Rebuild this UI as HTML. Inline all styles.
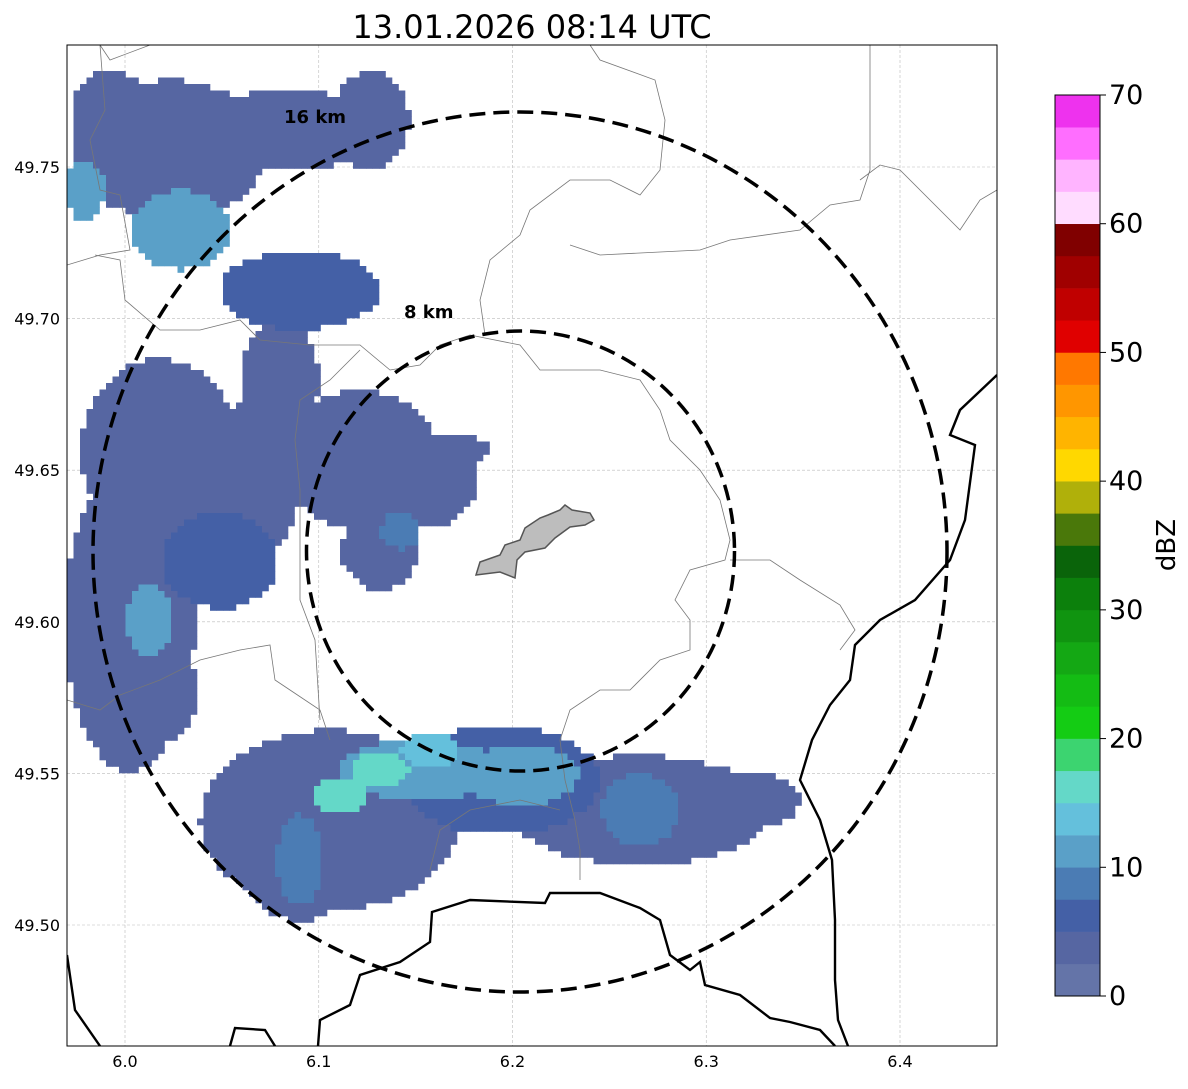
<!DOCTYPE html>
<html><head><meta charset="utf-8"><style>
body{margin:0;background:#fff;width:1188px;height:1084px;overflow:hidden;font-family:"Liberation Sans","DejaVu Sans",sans-serif}
</style></head><body>
<svg id="chart" width="1188" height="1084" xmlns="http://www.w3.org/2000/svg" font-family="DejaVu Sans, Liberation Sans, sans-serif">
<text x="532" y="38" font-size="32" text-anchor="middle">13.01.2026 08:14 UTC</text>
<defs><clipPath id="clip"><rect x="67" y="45" width="930" height="1001"/></clipPath></defs>
<g id="grid"></g>
<g id="cells" clip-path="url(#clip)"></g>
<g clip-path="url(#clip)" fill="none">
<path stroke="#777" stroke-width="0.8" d="M100,45 L105,110 L90,140 L100,190 L120,195 L130,250 L100,255 L67,265 M95,255 L120,260 L125,300 L160,330 L200,330 L240,320 L260,340 L310,345 L360,345 L390,370 L420,365 L440,345 L470,335 L520,345 L540,370 L600,370 L640,380 L660,410 L670,440 L700,470 L720,500 L730,540 L725,560 L690,570 L675,600 L690,620 L690,650 L660,660 L630,690 L600,690 L570,710 L560,740 L565,780 L575,820 L580,850 L580,880 M430,870 L440,830 L470,810 L520,800 L560,810 M67,700 L100,710 L120,695 L160,680 L200,660 L240,650 L270,645 L275,680 L290,690 L320,710 L330,740 M485,335 L480,300 L490,260 L520,235 L530,210 L570,180 L610,180 L640,195 L660,170 L665,120 L655,80 L600,60 L590,45 M870,45 L870,170 L860,200 L830,205 L800,230 L730,240 L700,250 L600,255 L570,245 M860,180 L880,165 L900,170 L960,230 L980,200 L997,190 M730,560 L770,560 L800,580 L840,605 L855,630 L840,650 M320,720 L315,640 L300,600 L300,550 L300,490 L295,440 L300,400 L330,380 L360,350 M150,45 L110,60 L100,45"/>
<path stroke="#000" stroke-width="2.4" d="M997,375 L960,410 L950,435 L975,445 L965,520 L950,560 L915,600 L880,620 L855,645 L850,680 L830,705 L812,740 L800,780 L820,820 L832,860 L835,920 L835,980 L838,1020 L848,1046 M67,955 L75,1010 L100,1046 M230,1046 L235,1028 L265,1030 L275,1046 M318,1046 L320,1020 L350,1005 L360,975 L400,962 L430,942 L432,912 L470,900 L545,903 L550,893 L600,893 L640,908 L660,920 L670,955 L690,970 L700,962 L705,985 L740,995 L770,1018 L790,1022 L820,1030 L835,1046"/>
<path fill="#bdbdbd" stroke="#555" stroke-width="1.5" d="M476,575 L480,562 L500,555 L505,545 L520,540 L525,528 L540,518 L548,515 L560,510 L565,505 L572,510 L590,513 L594,520 L585,525 L570,527 L555,538 L545,548 L525,552 L517,560 L515,578 L500,572 Z"/>
</g>
<g fill="none" stroke="#000" stroke-width="3.5" stroke-dasharray="16,8">
<ellipse cx="520" cy="552" rx="427" ry="440"/>
<ellipse cx="520.5" cy="551" rx="214" ry="220"/>
</g>
<text x="284" y="123" font-size="18" font-weight="bold">16 km</text>
<text x="404" y="318" font-size="18" font-weight="bold">8 km</text>
<rect x="67" y="45" width="930" height="1001" fill="none" stroke="#000" stroke-width="1"/>
<g id="ticks" font-size="16"></g>
<g id="cbar"></g>
<text transform="translate(1175,545) rotate(-90)" font-size="26" text-anchor="middle">dBZ</text>
</svg>
<script>
const lonTicks=[6.0,6.1,6.2,6.3,6.4];
const latTicks=[49.50,49.55,49.60,49.65,49.70,49.75];
const cbTicks=[0,10,20,30,40,50,60,70];
const cbColors=["#6474a8","#5666a2","#4460a6","#4b7cb4","#5aa0c8","#64c0dc","#64d8c8","#3cd470","#14cc14","#14bc14","#14a814","#109410","#0c800c","#0a640a","#4a780a","#b0b00a","#ffd800","#ffb400","#ff9600","#ff7800","#e00000","#c00000","#a00000","#800000","#ffdcff","#ffb4ff","#ff6eff","#ee32ee"];
// radar echoes: centre lon, centre lat, radius lon, radius lat, dBZ
const echoLon=[6.1058,6.1935,6.2658,6.3174,6.0903,6.0026,6.018,6.0077,6.0232,5.9923,6.0852,6.1265,6.0903,6.1213,6.1523,6.0645,6.08,6.049,6.1316,6.1729,6.1523,6.2039,6.2658,6.0903,6.0284,5.9794,6.0129,6.111,6.1316,6.157,6.1419];
const echoLat=[49.5346,49.5478,49.5379,49.5412,49.5214,49.6006,49.6567,49.5775,49.7556,49.7688,49.7622,49.7655,49.7094,49.6534,49.6468,49.6468,49.6798,49.6204,49.6237,49.6567,49.5511,49.5495,49.5379,49.5214,49.7292,49.7424,49.6006,49.543,49.551,49.5577,49.6300];
const echoRLon=[0.067,0.0516,0.067,0.031,0.03,0.0335,0.041,0.03,0.05,0.02,0.05,0.02,0.041,0.041,0.03,0.026,0.02,0.03,0.02,0.015,0.041,0.03,0.02,0.012,0.026,0.01,0.012,0.015,0.015,0.015,0.01];
const echoRLat=[0.0297,0.018,0.018,0.01,0.02,0.05,0.03,0.02,0.023,0.013,0.013,0.016,0.013,0.023,0.016,0.026,0.02,0.016,0.013,0.005,0.01,0.01,0.012,0.015,0.013,0.01,0.012,0.006,0.006,0.006,0.006];
const echoDbz=[4,5,4,4,4,4,3,3,3,3,3,3,5,4,4,4,3,5,4,3,10,10,9,8,11,12,11,17,17,14,9];
const X=lon=>125+(lon-6.0)*1937.5, Y=lat=>167+(49.75-lat)*3032;
const L=x=>6.0+(x-125)/1937.5, B=y=>49.75-(y-167)/3032;
const ns="http://www.w3.org/2000/svg";
function mk(t,a,p){const e=document.createElementNS(ns,t);for(const k in a)e.setAttribute(k,a[k]);p.appendChild(e);return e;}
const grid=document.getElementById('grid'),ticks=document.getElementById('ticks');
lonTicks.forEach(v=>{const x=X(v);
 const g=mk('line',{x1:x,x2:x,y1:45,y2:1046,stroke:'#bbb','stroke-width':0.6,'stroke-dasharray':'3,2'},grid);
 
 
 const t=mk('text',{x:x,y:1067,'text-anchor':'middle'},ticks);t.textContent=v.toFixed(1);
 
 });
latTicks.forEach(v=>{const y=Y(v);
 const g=mk('line',{x1:67,x2:997,y1:y,y2:y,stroke:'#bbb','stroke-width':0.6,'stroke-dasharray':'3,2'},grid);
 
 
 const t=mk('text',{x:60,y:y+6,'text-anchor':'end'},ticks);t.textContent=v.toFixed(2);
 
 });
const cells=document.getElementById('cells'),cs=6.5;
function colorFor(d){return cbColors[Math.min(27,Math.max(0,Math.floor(d/2.5)))];}
for(let y=45;y<1046;y+=cs){for(let x=67;x<997;x+=cs){
 const lo=L(x+cs/2),la=B(y+cs/2);let best=-1;
 for(let i=0;i<echoLon.length;i++){const dx=(lo-echoLon[i])/echoRLon[i],dy=(la-echoLat[i])/echoRLat[i];
  if(dx*dx+dy*dy<=1&&echoDbz[i]>best)best=echoDbz[i];}
 if(best>=0){const r=mk('rect',{x:x,y:y,width:cs+0.3,height:cs+0.3,fill:colorFor(best)},cells);
  
  }
}}
const cb=document.getElementById('cbar'),cy=v=>996-v*(901/70);
cbColors.forEach((c,i)=>{const r=mk('rect',{x:1055,y:cy((i+1)*2.5),width:45,height:901/28+0.3,fill:c},cb);
 
 });
mk('rect',{x:1055,y:95,width:45,height:901,fill:'none',stroke:'#000','stroke-width':1},cb);
cbTicks.forEach(v=>{mk('line',{x1:1100,x2:1106,y1:cy(v),y2:cy(v),stroke:'#000'},cb);
 const t=mk('text',{x:1109,y:cy(v)+9,'font-size':27},cb);t.textContent=v;
 
 });
</script>
</body></html>
